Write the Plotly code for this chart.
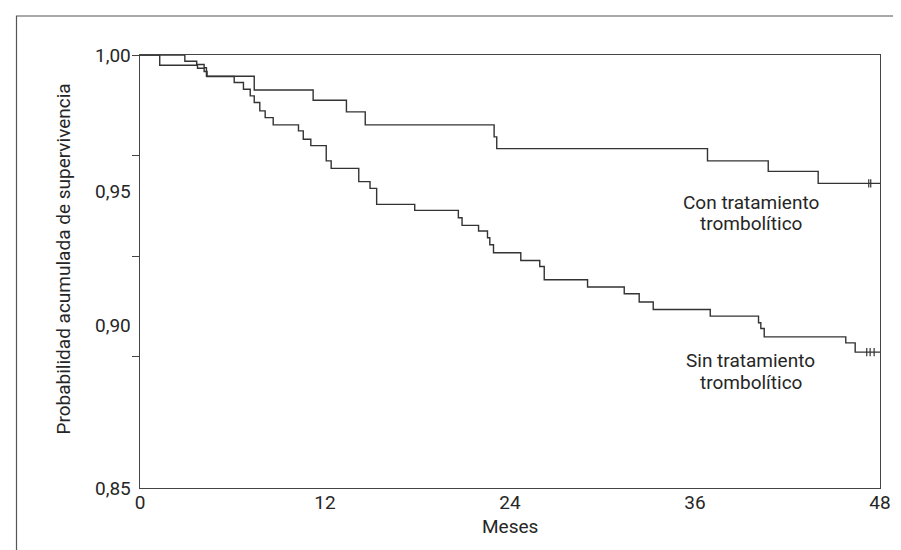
import plotly.graph_objects as go

# ---- data ----
months_con = [0, 2.91, 3.68, 4.16, 4.31, 7.41, 11.23, 13.39, 14.61, 22.97, 23.14, 36.81, 40.75, 43.99, 48]
surv_con = [1.0, 0.99785, 0.99671, 0.99556, 0.99265, 0.98786, 0.98432, 0.98030, 0.97579, 0.97163,
            0.96757, 0.96331, 0.95970, 0.95554, 0.95554]
censor_con_t = [47.27, 47.40]
censor_con_v = [0.95554, 0.95554]

months_sin = [0, 1.28, 3.73, 4.16, 4.35, 6.11, 6.71, 7.15, 7.41, 7.77, 8.12, 8.64, 10.28, 10.59, 11.08,
              12.08, 12.40, 14.19, 14.92, 15.35, 17.82, 20.65, 20.89, 21.96, 22.54, 22.69, 22.93,
              24.70, 25.93, 26.22, 29.03, 31.41, 32.38, 33.29, 36.99, 40.12, 40.27, 40.49, 45.78,
              46.39, 48]
surv_sin = [1.0, 0.99646, 0.99542, 0.99428, 0.99254, 0.99046, 0.98814, 0.98585, 0.98353, 0.98065,
            0.97832, 0.97579, 0.97371, 0.97080, 0.96861, 0.96331, 0.96074, 0.95613, 0.95380, 0.94825,
            0.94617, 0.94364, 0.94097, 0.93903, 0.93670, 0.93428, 0.93150, 0.92883, 0.92675, 0.92214,
            0.91961, 0.91728, 0.91441, 0.91184, 0.90955, 0.90722, 0.90525, 0.90237, 0.90029, 0.89706,
            0.89706]
censor_sin_t = [47.14, 47.36, 47.62]
censor_sin_v = [0.89706, 0.89706, 0.89706]

x_ticks = [0, 12, 24, 36, 48]
x_ticktext = ["0", "12", "24", "36", "48"]
y_label_pos = [1.0, 0.95266, 0.90618, 0.85]
y_label_text = ["1,00", "0,95", "0,90", "0,85"]
y_tickmarks = [1.0, 0.96514, 0.93012, 0.89561]

label_con_lines = ["Con tratamiento", "trombolítico"]
label_con_pos = (39.6, [0.94880, 0.94150])
label_sin_lines = ["Sin tratamiento", "trombolítico"]
label_sin_pos = (39.6, [0.89400, 0.88670])
x_title = "Meses"
y_title = "Probabilidad acumulada de supervivencia"

FONT = "Roboto, Liberation Sans, Arial, sans-serif"
LINE = "#333333"
TXT = "#262626"
FS = 19

fig = go.Figure()
fig.add_trace(go.Scatter(x=months_con, y=surv_con, mode="lines", line=dict(shape="hv", color=LINE, width=1.4),
                         hoverinfo="skip", showlegend=False))
fig.add_trace(go.Scatter(x=months_sin, y=surv_sin, mode="lines", line=dict(shape="hv", color=LINE, width=1.4),
                         hoverinfo="skip", showlegend=False))
for t, v in [(censor_con_t, censor_con_v), (censor_sin_t, censor_sin_v)]:
    fig.add_trace(go.Scatter(x=t, y=v, mode="markers",
                             marker=dict(symbol="line-ns", size=6, line=dict(color=LINE, width=1.2)),
                             hoverinfo="skip", showlegend=False))

font = dict(family=FONT, size=FS, color=TXT)
annotations = []
for val, txt in zip(y_label_pos, y_label_text):
    annotations.append(dict(x=0, xref="paper", y=val, yref="y", text=txt, showarrow=False,
                            xanchor="right", yanchor="middle", xshift=-7, font=font))
annotations.append(dict(x=-0.1027, xref="paper", y=0.5277, yref="paper", text=y_title, textangle=-90,
                        showarrow=False, xanchor="center", yanchor="middle", font=font))
annotations.append(dict(x=0.5, xref="paper", y=0, yref="paper", yshift=-38, text=x_title,
                        showarrow=False, xanchor="center", yanchor="middle", font=font))
for lines, (lx, lys) in [(label_con_lines, label_con_pos), (label_sin_lines, label_sin_pos)]:
    for txt, ly in zip(lines, lys):
        annotations.append(dict(x=lx, xref="x", y=ly, yref="y", text=txt, showarrow=False,
                                xanchor="center", yanchor="middle", font=font))

fig.update_layout(
    width=901, height=550,
    margin=dict(l=132, r=29, t=47, b=70),
    paper_bgcolor="white", plot_bgcolor="white",
    font=font,
    xaxis=dict(range=[0, 48], tickvals=x_ticks, ticktext=x_ticktext, ticks="", showgrid=False,
               zeroline=False, showline=True, mirror=True, linecolor="#444444", linewidth=1.3,
               ticklabelstandoff=-3, tickfont=font),
    yaxis=dict(range=[0.85, 1.0], tickvals=y_tickmarks, showticklabels=False, ticks="outside",
               ticklen=7, tickcolor="#444444", tickwidth=1.3, showgrid=False, zeroline=False,
               showline=True, mirror=True, linecolor="#444444", linewidth=1.3),
    annotations=annotations,
    shapes=[dict(type="rect", xref="paper", yref="paper",
                 x0=(8.5 - 132) / 740, x1=(892.5 - 132) / 740,
                 y0=(480 - 542.5) / 433, y1=(480 - 8) / 433,
                 line=dict(color="#555555", width=1.2), fillcolor="rgba(0,0,0,0)", layer="below")],
)

fig.write_html("out.html")
